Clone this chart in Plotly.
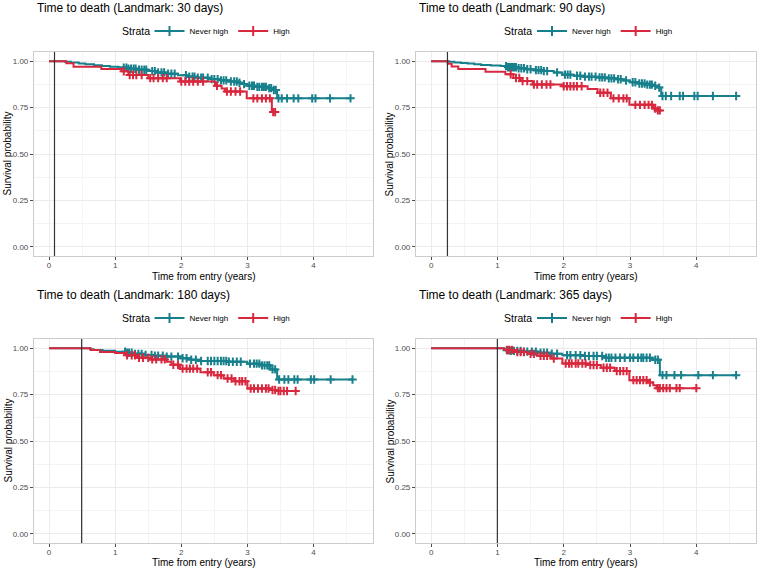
import numpy as np
import plotly.graph_objects as go

TEAL = "#17808C"
RED = "#D8283E"
FONT = "Arial, Liberation Sans, sans-serif"

landmark_days = [30, 90, 180, 365]
strata = ["Never high", "High"]
x_title = "Time from entry (years)"
y_title = "Survival probability"
legend_title = "Strata"

# ---------------- Landmark 30 days ----------------
lm30_never_t = [0, 0.24, 0.33, 0.45, 0.55, 0.68, 0.80, 0.92, 1.05, 1.20, 1.35, 1.50, 1.62, 1.78, 1.95,
                2.08, 2.25, 2.45, 2.60, 2.72, 2.85, 2.93, 3.00, 3.12, 3.30, 3.40, 3.45, 4.56]
lm30_never_s = [1.0, 0.997, 0.993, 0.988, 0.984, 0.979, 0.975, 0.970, 0.966, 0.960, 0.954, 0.947, 0.940,
                0.933, 0.925, 0.917, 0.911, 0.904, 0.897, 0.891, 0.884, 0.877, 0.868, 0.862, 0.855, 0.845,
                0.800, 0.800]
lm30_never_cens = [1.13, 1.17, 1.20, 1.24, 1.28, 1.31, 1.36, 1.40, 1.44, 1.47, 1.56, 1.60, 1.65, 1.70, 1.74,
                   1.80, 1.85, 1.90, 2.07, 2.12, 2.17, 2.20, 2.25, 2.30, 2.33, 2.40, 2.46, 2.50, 2.55, 2.60,
                   2.64, 2.68, 2.75, 2.80, 2.84, 2.88, 2.95, 3.03, 3.07, 3.10, 3.15, 3.18, 3.22, 3.25, 3.28,
                   3.33, 3.36, 3.40, 3.43, 3.47, 3.52, 3.60, 3.70, 3.77, 3.98, 4.03, 4.25, 4.56]
lm30_high_t = [0, 0.26, 0.37, 0.79, 1.10, 1.20, 1.50, 1.98, 2.51, 2.61, 2.66, 2.99, 3.37, 3.42]
lm30_high_s = [1.0, 0.989, 0.971, 0.958, 0.946, 0.926, 0.909, 0.891, 0.868, 0.853, 0.837, 0.800, 0.726, 0.726]
lm30_high_cens = [1.13, 1.22, 1.27, 1.32, 1.40, 1.53, 1.58, 1.65, 1.72, 1.78, 2.00, 2.06, 2.12, 2.18, 2.25,
                  2.33, 2.54, 2.69, 2.75, 2.82, 2.89, 3.09, 3.15, 3.22, 3.28, 3.34, 3.39, 3.42]

# ---------------- Landmark 90 days ----------------
lm90_never_t = [0, 0.27, 0.35, 0.45, 0.55, 0.65, 0.75, 0.90, 1.05, 1.15, 1.30, 1.42, 1.55, 1.70, 1.85, 1.98,
                2.15, 2.30, 2.50, 2.65, 2.78, 2.90, 3.00, 3.12, 3.25, 3.35, 3.42, 3.47, 4.60]
lm90_never_s = [1.0, 0.997, 0.994, 0.991, 0.988, 0.984, 0.980, 0.977, 0.974, 0.968, 0.962, 0.957, 0.952,
                0.947, 0.940, 0.928, 0.922, 0.917, 0.913, 0.908, 0.903, 0.896, 0.887, 0.880, 0.874, 0.868,
                0.858, 0.813, 0.813]
lm90_never_cens = [1.13, 1.16, 1.19, 1.22, 1.25, 1.28, 1.32, 1.36, 1.40, 1.45, 1.50, 1.58, 1.62, 1.66, 1.70,
                   1.75, 1.90, 2.02, 2.06, 2.10, 2.20, 2.25, 2.32, 2.38, 2.42, 2.48, 2.54, 2.58, 2.62, 2.68,
                   2.72, 2.76, 2.82, 2.86, 2.94, 3.04, 3.08, 3.14, 3.18, 3.22, 3.26, 3.30, 3.33, 3.38, 3.44,
                   3.49, 3.54, 3.62, 3.75, 3.80, 3.97, 4.02, 4.25, 4.60]
lm90_high_t = [0, 0.25, 0.31, 0.41, 0.82, 1.12, 1.24, 1.35, 1.53, 1.98, 2.36, 2.51, 2.71, 2.99, 3.35, 3.42, 3.47]
lm90_high_s = [1.0, 0.986, 0.972, 0.958, 0.944, 0.930, 0.910, 0.893, 0.875, 0.865, 0.850, 0.830, 0.800,
               0.765, 0.745, 0.735, 0.735]
lm90_high_cens = [1.20, 1.28, 1.33, 1.38, 1.45, 1.55, 1.60, 1.67, 1.74, 1.80, 2.00, 2.05, 2.10, 2.15, 2.20,
                  2.27, 2.55, 2.60, 2.66, 2.75, 2.83, 2.90, 2.95, 3.08, 3.15, 3.22, 3.28, 3.33, 3.38, 3.42, 3.45]

# ---------------- Landmark 180 days ----------------
lm180_never_t = [0, 0.62, 0.67, 0.81, 1.00, 1.17, 1.30, 1.43, 1.60, 1.78, 1.99, 2.15, 2.29, 2.70, 3.00,
                 3.20, 3.35, 3.45, 4.59]
lm180_never_s = [1.0, 0.995, 0.991, 0.986, 0.981, 0.976, 0.970, 0.964, 0.960, 0.955, 0.946, 0.938, 0.931,
                 0.927, 0.917, 0.908, 0.886, 0.832, 0.832]
lm180_never_cens = [1.15, 1.18, 1.21, 1.25, 1.30, 1.35, 1.40, 1.46, 1.55, 1.60, 1.65, 1.72, 1.78, 1.85, 1.95,
                    2.02, 2.08, 2.15, 2.22, 2.30, 2.40, 2.45, 2.50, 2.55, 2.60, 2.64, 2.68, 2.72, 2.78, 2.84,
                    2.90, 3.04, 3.10, 3.14, 3.18, 3.22, 3.26, 3.30, 3.33, 3.38, 3.42, 3.48, 3.56, 3.62, 3.71,
                    3.76, 3.96, 4.01, 4.26, 4.59]
lm180_high_t = [0, 0.63, 0.77, 1.00, 1.17, 1.33, 1.53, 1.78, 1.85, 1.98, 2.29, 2.49, 2.64, 2.80, 3.00, 3.35,
                3.45, 3.73]
lm180_high_s = [1.0, 0.991, 0.980, 0.975, 0.962, 0.949, 0.940, 0.928, 0.911, 0.890, 0.871, 0.855, 0.837,
                0.822, 0.783, 0.775, 0.770, 0.770]
lm180_high_cens = [1.18, 1.25, 1.30, 1.36, 1.42, 1.50, 1.56, 1.62, 1.70, 1.75, 1.88, 1.95, 2.02, 2.08, 2.13,
                   2.18, 2.24, 2.40, 2.45, 2.55, 2.60, 2.70, 2.76, 2.82, 2.88, 2.92, 2.97, 3.05, 3.10, 3.16,
                   3.22, 3.28, 3.32, 3.38, 3.42, 3.47, 3.50, 3.55, 3.60, 3.73]

# ---------------- Landmark 365 days ----------------
lm365_never_t = [0, 1.10, 1.13, 1.20, 1.38, 1.60, 1.80, 1.98, 2.30, 2.62, 3.33, 3.45, 4.60]
lm365_never_s = [1.0, 0.995, 0.990, 0.986, 0.982, 0.976, 0.971, 0.962, 0.958, 0.949, 0.938, 0.855, 0.855]
lm365_never_cens = [1.14, 1.17, 1.20, 1.25, 1.30, 1.35, 1.40, 1.45, 1.52, 1.58, 1.65, 1.70, 1.75, 1.82, 1.90,
                    2.05, 2.10, 2.18, 2.25, 2.32, 2.38, 2.45, 2.50, 2.58, 2.64, 2.68, 2.72, 2.78, 2.85, 2.92,
                    3.00, 3.05, 3.12, 3.17, 3.20, 3.25, 3.30, 3.38, 3.42, 3.49, 3.55, 3.67, 3.77, 4.03, 4.25,
                    4.60]
lm365_high_t = [0, 1.10, 1.25, 1.45, 1.60, 1.80, 1.98, 2.36, 2.56, 2.77, 2.99, 3.27, 3.35, 3.40, 4.00]
lm365_high_s = [1.0, 0.991, 0.980, 0.970, 0.960, 0.945, 0.918, 0.910, 0.895, 0.877, 0.828, 0.815, 0.800,
                0.785, 0.785]
lm365_high_cens = [1.15, 1.18, 1.22, 1.30, 1.35, 1.40, 1.50, 1.55, 1.65, 1.70, 1.75, 1.85, 2.03, 2.08, 2.12,
                   2.18, 2.22, 2.28, 2.33, 2.40, 2.45, 2.50, 2.60, 2.65, 2.70, 2.80, 2.85, 2.90, 2.95, 3.05,
                   3.10, 3.15, 3.20, 3.25, 3.30, 3.42, 3.45, 3.50, 3.55, 3.60, 3.70, 3.75, 4.00]

panels = [
    (lm30_never_t, lm30_never_s, lm30_never_cens, lm30_high_t, lm30_high_s, lm30_high_cens),
    (lm90_never_t, lm90_never_s, lm90_never_cens, lm90_high_t, lm90_high_s, lm90_high_cens),
    (lm180_never_t, lm180_never_s, lm180_never_cens, lm180_high_t, lm180_high_s, lm180_high_cens),
    (lm365_never_t, lm365_never_s, lm365_never_cens, lm365_high_t, lm365_high_s, lm365_high_cens),
]

W, H = 760, 570


def px(x):
    return x / W


def py(y):
    return 1 - y / H


# plot-area pixel boxes in window coordinates (left, right, top, bottom)
boxes = [(34, 373, 52, 256), (416, 756, 52, 256), (34, 373, 339, 543), (416, 756, 339, 543)]
title_pos = [(35, 8), (417, 8), (35, 295), (417, 295)]
legend_y = [31, 31, 318, 318]
ytitle_x = [7.5, 389.5, 7.5, 389.5]
xtitle_y = [276, 276, 562, 562]


def surv_at(ts, ss, t):
    i = int(np.searchsorted(np.asarray(ts), t, side="right")) - 1
    return ss[max(i, 0)]


fig = go.Figure()
layout = {}
for k, (pdata, box) in enumerate(zip(panels, boxes)):
    n = "" if k == 0 else str(k + 1)
    xa, ya = "x" + n, "y" + n
    lg = "legend" + n
    curves = [(pdata[0], pdata[1], pdata[2], TEAL, strata[0]),
              (pdata[3], pdata[4], pdata[5], RED, strata[1])]
    for ts, ss, cens, col, name in curves:
        fig.add_trace(go.Scatter(x=ts, y=ss, mode="lines", line=dict(color=col, width=2, shape="hv"),
                                 xaxis=xa, yaxis=ya, showlegend=False, hoverinfo="skip"))
        fig.add_trace(go.Scatter(x=cens, y=[surv_at(ts, ss, c) for c in cens], mode="markers",
                                 marker=dict(symbol="cross-thin", size=6, line=dict(color=col, width=2)),
                                 xaxis=xa, yaxis=ya, showlegend=False, hoverinfo="skip"))
    for ts, ss, cens, col, name in curves:
        fig.add_trace(go.Scatter(x=[None], y=[None], mode="lines+markers", name=name,
                                 line=dict(color=col, width=2),
                                 marker=dict(symbol="cross-thin", size=7, line=dict(color=col, width=2)),
                                 xaxis=xa, yaxis=ya, legend=lg, showlegend=True))
    l, r, t, b = box
    axis_common = dict(showline=True, mirror=True, linecolor="#CCCCCC", linewidth=1.2,
                       showgrid=True, gridcolor="#EBEBEB", gridwidth=1, zeroline=False, automargin=False,
                       ticks="outside", ticklen=3, tickcolor="#4D4D4D", tickwidth=0.8,
                       tickfont=dict(size=8, color="#4D4D4D", family=FONT))
    layout["xaxis" + n] = dict(axis_common, domain=[px(l), px(r)], anchor=ya, range=[-0.228, 4.9],
                               tickmode="array", tickvals=[0, 1, 2, 3, 4], ticktext=["0", "1", "2", "3", "4"],
                               ticklabelstandoff=-2,
                               minor=dict(tickvals=[0.5, 1.5, 2.5, 3.5, 4.5], showgrid=True,
                                          gridcolor="#F4F4F4", gridwidth=1))
    layout["yaxis" + n] = dict(axis_common, domain=[py(b), py(t)], anchor=xa, range=[-0.05, 1.05],
                               tickmode="array", tickvals=[0, 0.25, 0.5, 0.75, 1.0],
                               ticktext=["0.00", "0.25", "0.50", "0.75", "1.00"],
                               minor=dict(tickvals=[0.125, 0.375, 0.625, 0.875], showgrid=True,
                                          gridcolor="#F4F4F4", gridwidth=1))
    # legend: "Strata" label + items, centred on panel
    cx = (l + r) / 2
    lx = cx - 84
    layout[lg] = dict(orientation="h", x=px(lx + 30), xanchor="left",
                      y=py(legend_y[k]), yanchor="middle",
                      font=dict(size=8, color="black", family=FONT), itemwidth=30,
                      bgcolor="rgba(0,0,0,0)", tracegroupgap=0)
    fig.add_annotation(text=legend_title, xref="paper", yref="paper", x=px(lx), y=py(legend_y[k]),
                       xanchor="left", yanchor="middle", showarrow=False,
                       font=dict(size=10.5, color="black", family=FONT))
    lm_years = landmark_days[k] / 365.25
    fig.add_shape(type="line", xref=xa, yref=ya + " domain", x0=lm_years, x1=lm_years, y0=0, y1=1,
                  line=dict(color="#333333", width=1.2), layer="above")
    tx, ty = title_pos[k]
    fig.add_annotation(text=f"Time to death (Landmark: {landmark_days[k]} days)", xref="paper", yref="paper",
                       x=px(tx), y=py(ty), xanchor="left", yanchor="middle", showarrow=False,
                       font=dict(size=12, color="black", family=FONT))
    fig.add_annotation(text=x_title, xref="paper", yref="paper", x=px(cx), y=py(xtitle_y[k]),
                       xanchor="center", yanchor="middle", showarrow=False,
                       font=dict(size=10, color="black", family=FONT))
    fig.add_annotation(text=y_title, xref="paper", yref="paper", x=px(ytitle_x[k]), y=py((t + b) / 2),
                       xanchor="center", yanchor="middle", textangle=-90, showarrow=False,
                       font=dict(size=10, color="black", family=FONT))

fig.update_layout(width=W, height=H, margin=dict(l=0, r=0, t=0, b=0), plot_bgcolor="white",
                  paper_bgcolor="white", font=dict(family=FONT), **layout)
# remove the browser's default 8px page margin so the 760x570 figure fills the window
fig.write_html("out.html", config={"displayModeBar": False},
               post_script="document.body.style.margin='0px';")
